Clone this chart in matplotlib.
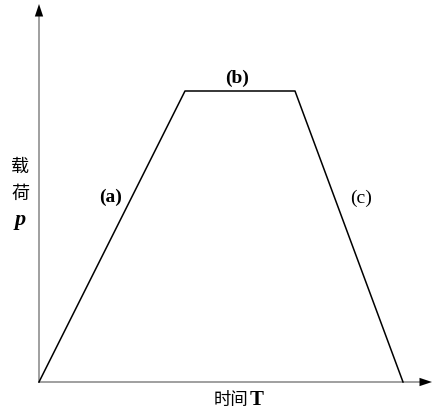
import matplotlib
matplotlib.use("Agg")
import matplotlib.pyplot as plt

plt.rcParams['font.family'] = ['Noto Sans CJK SC', 'DejaVu Sans']

# trapezoidal load history: ramp up (a), hold (b), unload (c)
time = [0, 146, 256, 364]
load = [0, 291, 291, 0]
t_max, p_max = 394, 383

segment_labels = ['(a)', '(b)', '(c)']
segment_label_pos = [(72, 186), (198, 305), (322, 185)]
segment_label_weight = ['bold', 'bold', 'normal']

W, H = 433, 414
fig = plt.figure(figsize=(W / 100, H / 100), dpi=100)
ax = fig.add_axes([39 / W, 31 / H, (W - 39) / W, (H - 31) / H])
ax.set_xlim(0, t_max)
ax.set_ylim(0, p_max)
ax.axis('off')

# axes drawn as gray shafts with black arrow heads
axis_gray = '#8f8f8f'
ax.plot([0, t_max - 10], [0, 0], color=axis_gray, lw=1.2, clip_on=False)
ax.plot([0, 0], [0, p_max - 16], color=axis_gray, lw=1.2, clip_on=False)
head = '-|>,head_length=0.9,head_width=0.3'
ax.annotate('', xy=(0, p_max - 5), xytext=(0, p_max - 19),
            arrowprops=dict(arrowstyle=head, color='black', lw=0,
                            shrinkA=0, shrinkB=0), annotation_clip=False)
ax.annotate('', xy=(t_max - 1, 0), xytext=(t_max - 15, 0),
            arrowprops=dict(arrowstyle=head, color='black', lw=0,
                            shrinkA=0, shrinkB=0), annotation_clip=False)

ax.plot(time, load, color='black', lw=1.1, clip_on=False)

for lab, (x, y), w in zip(segment_labels, segment_label_pos, segment_label_weight):
    ax.text(x, y, lab, fontsize=14, family='Liberation Serif', weight=w,
            ha='center', va='center')

# axis titles
fig.text(20 / W, 1 - 167 / H, '载', fontsize=13, ha='center', va='center')
fig.text(20 / W, 1 - 194 / H, '荷', fontsize=13, ha='center', va='center')
fig.text(20 / W, 1 - 220 / H, 'p', fontsize=16, family='Liberation Serif',
         style='italic', weight='bold', ha='center', va='center')
fig.text(248 / W, 1 - 400 / H, '时间', fontsize=12.5, ha='right', va='center')
fig.text(250 / W, 1 - 400 / H, 'T', fontsize=15, family='Liberation Serif',
         weight='bold', ha='left', va='center')

fig.savefig('out.png', dpi=100)
